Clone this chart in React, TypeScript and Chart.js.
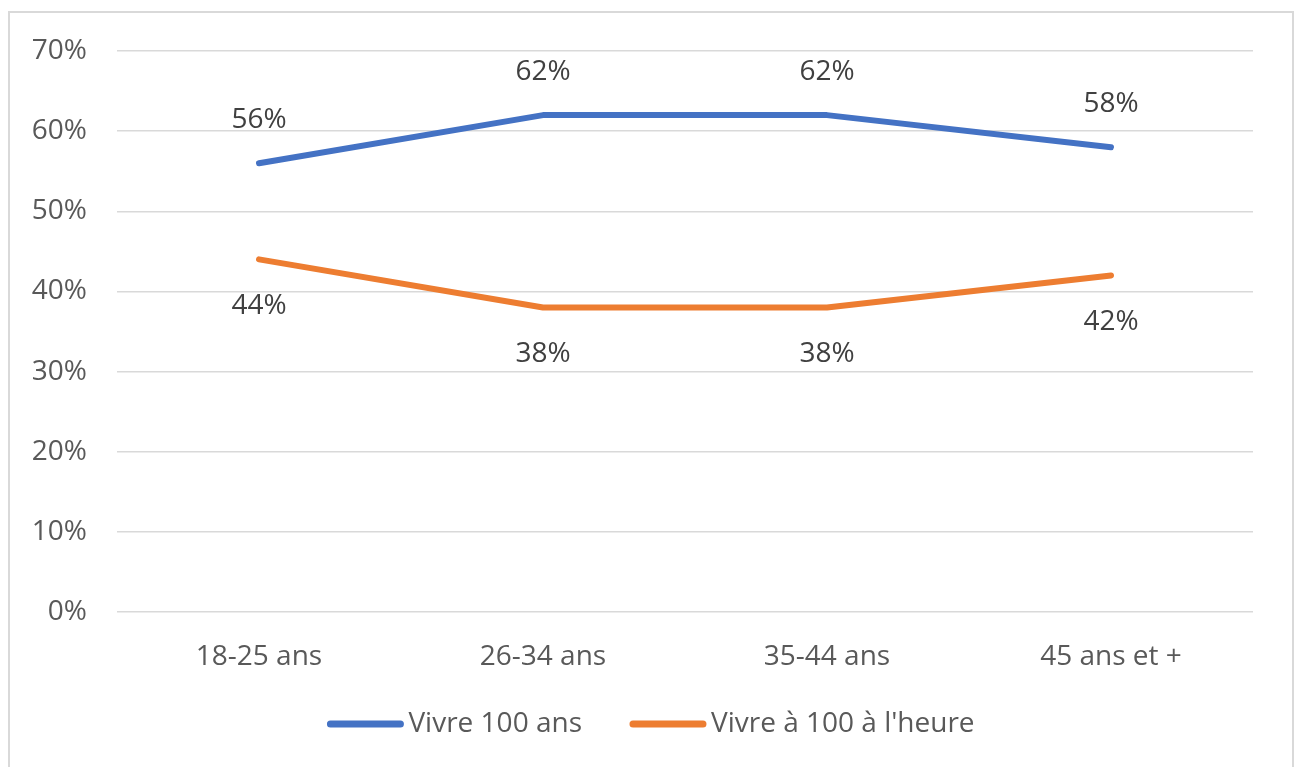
import React, { useEffect, useRef } from "react";
import { Chart, registerables } from "chart.js";

Chart.register(...registerables);

const categories = ["18-25 ans", "26-34 ans", "35-44 ans", "45 ans et +"];
const seriesNames = ["Vivre 100 ans", "Vivre à 100 à l'heure"];
const vivre100Ans = [56, 62, 62, 58];
const vivre100Heure = [44, 38, 38, 42];
const seriesColors = ["#4472C4", "#ED7D31"];
const labelPositions = ["above", "below"];

const FONT = "'Open Sans', 'DejaVu Sans', sans-serif";
const FS = 28;

const labelsPlugin = {
  id: "valueLabels",
  afterDatasetsDraw(chart: any) {
    const ctx = chart.ctx;
    ctx.save();
    ctx.font = `${FS}px ${FONT}`;
    ctx.fillStyle = "#404040";
    ctx.textAlign = "center";
    ctx.textBaseline = "middle";
    chart.data.datasets.forEach((ds: any, i: number) => {
      const meta = chart.getDatasetMeta(i);
      meta.data.forEach((pt: any, j: number) => {
        const off = labelPositions[i] === "above" ? -43 : 47;
        ctx.fillText(`${ds.data[j]}%`, pt.x, pt.y + off);
      });
    });
    ctx.restore();
  },
};

const legendPlugin = {
  id: "customLegend",
  afterDraw(chart: any) {
    const ctx = chart.ctx;
    ctx.save();
    ctx.font = `${FS}px ${FONT}`;
    const lineW = 76;
    const gap = 5;
    const spacing = 48;
    const widths = seriesNames.map((n) => ctx.measureText(n).width);
    const total = widths.reduce((a, w) => a + lineW + gap + w, 0) + spacing * (seriesNames.length - 1);
    let x = chart.width / 2 - total / 2;
    const y = 711;
    seriesNames.forEach((n, i) => {
      ctx.strokeStyle = seriesColors[i];
      ctx.lineWidth = 7;
      ctx.lineCap = "round";
      ctx.beginPath();
      ctx.moveTo(x + 3, y);
      ctx.lineTo(x + lineW - 3, y);
      ctx.stroke();
      ctx.fillStyle = "#595959";
      ctx.textAlign = "left";
      ctx.textBaseline = "middle";
      ctx.fillText(n, x + lineW + gap, y);
      x += lineW + gap + widths[i] + spacing;
    });
    ctx.restore();
  },
};

export default function App() {
  const ref = useRef<HTMLCanvasElement | null>(null);
  useEffect(() => {
    if (!ref.current) return;
    const chart = new Chart(ref.current, {
      type: "line",
      data: {
        labels: categories,
        datasets: [vivre100Ans, vivre100Heure].map((d, i) => ({
          label: seriesNames[i],
          data: d,
          borderColor: seriesColors[i],
          backgroundColor: seriesColors[i],
          borderWidth: 6,
          borderCapStyle: "round",
          borderJoinStyle: "round",
          pointRadius: 0,
          tension: 0,
        })),
      },
      options: {
        responsive: false,
        animation: false,
        layout: { padding: { left: 0, right: 39, top: 38, bottom: 93 } },
        plugins: {
          legend: { display: false },
          tooltip: { enabled: false },
        },
        scales: {
          x: {
            offset: true,
            grid: { display: false, drawTicks: false },
            border: { display: false },
            ticks: { color: "#595959", font: { family: FONT, size: FS }, padding: 28, maxRotation: 0 },
            afterFit: (s: any) => { s.height = 60; s.paddingLeft = 0; s.paddingRight = 0; },
          },
          y: {
            min: 0,
            max: 70,
            grid: { color: "#D9D9D9", lineWidth: 1.5, drawTicks: false },
            border: { display: false },
            ticks: {
              stepSize: 10,
              color: "#595959",
              font: { family: FONT, size: FS },
              padding: 30,
              callback: (v: any) => `${v}%`,
            },
            afterFit: (s: any) => { s.width = 107; s.paddingTop = 0; s.paddingBottom = 0; },
          },
        },
      },
      plugins: [labelsPlugin, legendPlugin],
    } as any);
    return () => chart.destroy();
  }, []);
  return (
    <div
      style={{
        position: "absolute",
        left: 8,
        top: 11,
        width: 1286,
        height: 770,
        boxSizing: "border-box",
        border: "2px solid #D9D9D9",
        background: "#fff",
      }}
    >
      <canvas ref={ref} width={1282} height={752} style={{ display: "block" }} />
    </div>
  );
}
